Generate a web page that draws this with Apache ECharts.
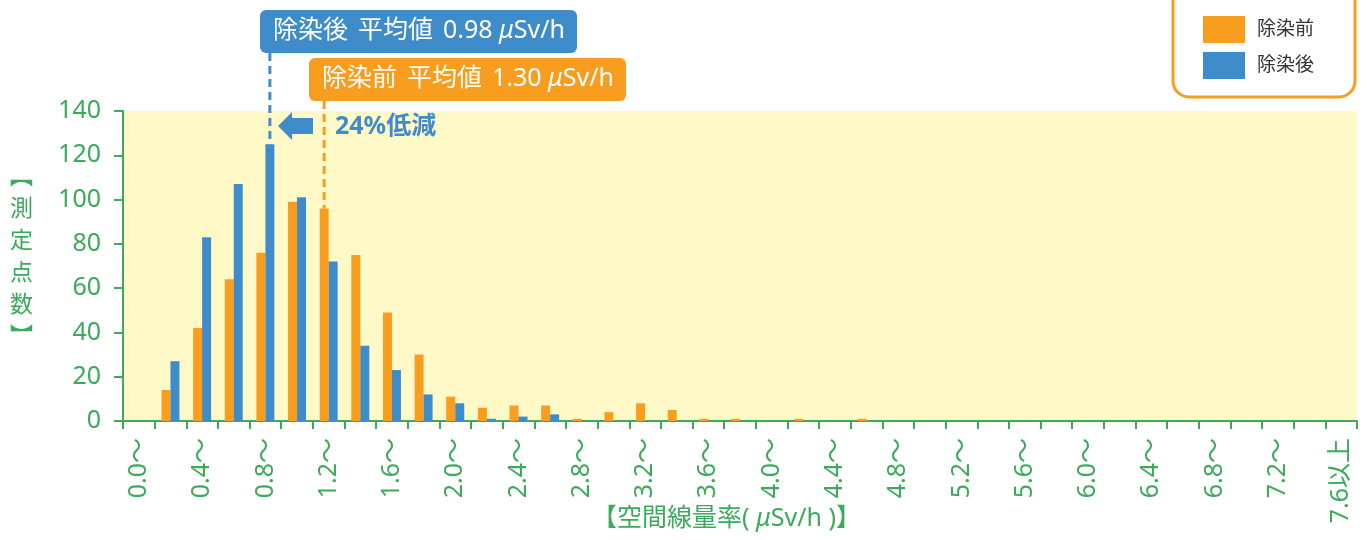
<!DOCTYPE html>
<html>
<head>
<meta charset="utf-8">
<script src="https://cdn.jsdelivr.net/npm/echarts@6/dist/echarts.min.js"></script>
<style>
  html, body { margin: 0; padding: 0; background: #fff; }
  #chart { width: 1367px; height: 540px; }
</style>
</head>
<body>
<div id="chart"></div>
<script>
// dose-rate bins (μSv/h), one per 0.2 step
const categories = [
  "0.0〜", "0.2〜", "0.4〜", "0.6〜", "0.8〜", "1.0〜", "1.2〜", "1.4〜", "1.6〜", "1.8〜",
  "2.0〜", "2.2〜", "2.4〜", "2.6〜", "2.8〜", "3.0〜", "3.2〜", "3.4〜", "3.6〜", "3.8〜",
  "4.0〜", "4.2〜", "4.4〜", "4.6〜", "4.8〜", "5.0〜", "5.2〜", "5.4〜", "5.6〜", "5.8〜",
  "6.0〜", "6.2〜", "6.4〜", "6.6〜", "6.8〜", "7.0〜", "7.2〜", "7.4〜", "7.6以上"
]

// 除染前 (before decontamination)
const beforeValues = [
  0, 14, 42, 64, 76, 99, 96, 75, 49, 30,
  11, 6, 7, 7, 1, 4, 8, 5, 1, 1,
  0, 1, 0, 1, 0, 0, 0, 0, 0, 0,
  0, 0, 0, 0, 0, 0, 0, 0, 0
]

// 除染後 (after decontamination)
const afterValues = [
  0, 27, 83, 107, 125, 101, 72, 34, 23, 12,
  8, 1, 2, 3, 0, 0, 0, 0, 0, 0,
  0, 0, 0, 0, 0, 0, 0, 0, 0, 0,
  0, 0, 0, 0, 0, 0, 0, 0, 0
]

const meanAfter = "0.98"
const meanBefore = "1.30"
const reductionText = "24%低減"
// bins the mean markers point at
const afterMarkIndex = 4
const beforeMarkIndex = 6

const GREEN = "#3baa5a"
const ORANGE = "#f99d1e"
const BLUE = "#3f8cca"
const FONT = "'Noto Sans', 'Noto Sans CJK JP'"
const BAR_W = 9

const chart = echarts.init(document.getElementById("chart"))

const option = {
  animation: false,
  textStyle: { fontFamily: FONT },
  grid: {
    left: 123,
    right: 10,
    top: 111,
    bottom: 119,
    show: true,
    backgroundColor: "#fff9c8",
    borderWidth: 0,
  },
  legend: {
    orient: "vertical",
    left: 1203,
    top: 16,
    padding: 0,
    itemGap: 9,
    itemWidth: 42,
    itemHeight: 27,
    icon: "rect",
    data: ["除染前", "除染後"],
    textStyle: { fontSize: 19, color: "#333", fontFamily: FONT, padding: [0, 0, 0, 7] },
  },
  xAxis: {
    type: "category",
    data: categories,
    axisLine: { lineStyle: { color: GREEN, width: 2 } },
    axisTick: { show: true, interval: 0, length: 8, lineStyle: { color: GREEN, width: 2 } },
    axisLabel: {
      interval: 1,
      rotate: 90,
      margin: 17,
      color: GREEN,
      fontSize: 25,
      fontFamily: FONT,
    },
    splitLine: { show: false },
  },
  yAxis: {
    type: "value",
    min: 0,
    max: 140,
    interval: 20,
    axisLine: { show: true, lineStyle: { color: GREEN, width: 2 } },
    axisTick: { show: true, length: 9, lineStyle: { color: GREEN, width: 2 } },
    axisLabel: { margin: 22, color: GREEN, fontSize: 25, fontFamily: FONT },
    splitLine: { show: false },
  },
  series: [
    {
      name: "除染前",
      type: "bar",
      data: beforeValues,
      barWidth: BAR_W,
      barGap: "0%",
      itemStyle: { color: ORANGE },
    },
    {
      name: "除染後",
      type: "bar",
      data: afterValues,
      barWidth: BAR_W,
      barGap: "0%",
      itemStyle: { color: BLUE },
    },
  ],
}

chart.setOption(option)

// bar centres: two bars of BAR_W side by side around the category centre
const afterX = chart.convertToPixel({ xAxisIndex: 0 }, afterMarkIndex) + BAR_W / 2
const afterTop = chart.convertToPixel({ yAxisIndex: 0 }, afterValues[afterMarkIndex])
const beforeX = chart.convertToPixel({ xAxisIndex: 0 }, beforeMarkIndex) - BAR_W / 2
const beforeTop = chart.convertToPixel({ yAxisIndex: 0 }, beforeValues[beforeMarkIndex])

const labelRich = {
  t: { fontSize: 25, fill: "#fff", fontFamily: FONT },
  s: { fontSize: 25, fill: "#fff", fontFamily: FONT, width: 10 },
  m: { fontSize: 25, fill: "#fff", fontFamily: FONT, fontStyle: "italic" },
}

chart.setOption({
  graphic: [
    // legend frame (top edge runs off the picture)
    {
      type: "rect",
      z: -1,
      shape: { x: 1173, y: -20, width: 182, height: 117, r: 16 },
      style: { fill: "#fff", stroke: ORANGE, lineWidth: 3 },
    },
    // y axis name, stacked vertically
    {
      type: "text",
      left: 10,
      top: 159,
      style: {
        text: "︻\n測\n定\n点\n数\n︼",
        fill: GREEN,
        fontSize: 23,
        fontFamily: "Noto Sans CJK JP",
        lineHeight: 32,
        align: "center",
      },
    },
    // x axis name
    {
      type: "text",
      left: 592,
      top: 506,
      style: {
        text: "{t|【空間線量率( }{m|μ}{t|Sv/h )】}",
        rich: {
          t: { fontSize: 25, fill: GREEN, fontFamily: FONT },
          m: { fontSize: 25, fill: GREEN, fontFamily: FONT, fontStyle: "italic" },
        },
      },
    },
    // mean after: dashed marker
    {
      type: "line",
      shape: { x1: afterX, y1: 53, x2: afterX, y2: afterTop },
      style: { stroke: BLUE, lineWidth: 3, lineDash: [8, 5] },
    },
    // mean before: dashed marker
    {
      type: "line",
      shape: { x1: beforeX, y1: 101, x2: beforeX, y2: beforeTop },
      style: { stroke: ORANGE, lineWidth: 3, lineDash: [8, 5] },
    },
    {
      type: "rect",
      shape: { x: 260, y: 10, width: 317, height: 43, r: 6 },
      style: { fill: BLUE },
    },
    {
      type: "text",
      x: 273,
      y: 31,
      style: {
        text: "{t|除染後}{s| }{t|平均値}{s| }{t|" + meanAfter + " }{m|μ}{t|Sv/h}",
        rich: labelRich,
        verticalAlign: "middle",
      },
    },
    {
      type: "rect",
      shape: { x: 309, y: 58, width: 317, height: 43, r: 6 },
      style: { fill: ORANGE },
    },
    {
      type: "text",
      x: 322,
      y: 79,
      style: {
        text: "{t|除染前}{s| }{t|平均値}{s| }{t|" + meanBefore + " }{m|μ}{t|Sv/h}",
        rich: labelRich,
        verticalAlign: "middle",
      },
    },
    // left-pointing arrow
    {
      type: "polygon",
      shape: {
        points: [[278, 126], [292, 112], [292, 118], [313, 118], [313, 134], [292, 134], [292, 140]],
      },
      style: { fill: BLUE },
    },
    {
      type: "text",
      x: 335,
      y: 127,
      style: {
        text: reductionText,
        fill: BLUE,
        fontSize: 25,
        fontWeight: "bold",
        fontFamily: FONT,
        verticalAlign: "middle",
      },
    },
  ],
})

window.addEventListener("resize", () => chart.resize())
</script>
</body>
</html>
